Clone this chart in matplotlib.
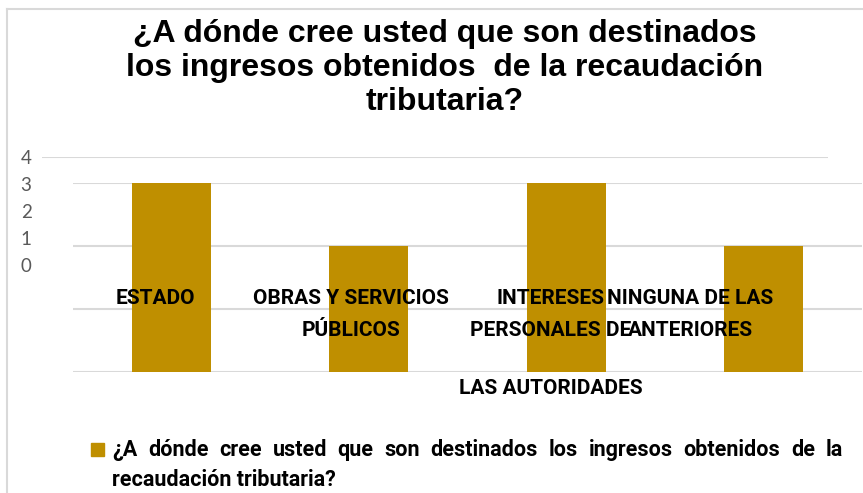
import matplotlib
matplotlib.use("Agg")
import matplotlib.pyplot as plt
from matplotlib.lines import Line2D
from matplotlib.patches import Rectangle
from matplotlib.transforms import blended_transform_factory

# data
categories = ["ESTADO", "OBRAS Y SERVICIOS PÚBLICOS",
              "INTERESES PERSONALES DE LAS AUTORIDADES", "NINGUNA DE LAS ANTERIORES"]
values = [3, 2, 3, 2]
label_lines = [["ESTADO"],
               ["OBRAS Y SERVICIOS", "PÚBLICOS"],
               ["INTERESES", "PERSONALES DE", "LAS AUTORIDADES"],
               ["NINGUNA DE LAS", "ANTERIORES"]]
tick_labels = ["0", "1", "2", "3", "4"]
title = "¿A dónde cree usted que son destinados\nlos ingresos obtenidos  de la recaudación\ntributaria?"
legend_lines = ["¿A dónde cree usted que son destinados los ingresos obtenidos  de la",
                "recaudación tributaria?"]

BAR = "#BF8F00"
GRID = "#D9D9D9"
LABEL_FONT = "Roboto"
W, H = 863, 493

fig = plt.figure(figsize=(W / 100, H / 100), dpi=100)

# chart border (only top and left edges are inside the image)
fig.add_artist(Line2D([7 / W, 7 / W], [0, 1 - 9 / H], color=GRID, lw=1.5))
fig.add_artist(Line2D([7 / W, 1], [1 - 9 / H, 1 - 9 / H], color=GRID, lw=1.5))

fig.text(445 / W, 1 - 68 / H, title, ha="center", va="center",
         fontsize=23, fontweight="bold", family="Liberation Sans", linespacing=1.18)

# main plot area
ax = fig.add_axes([73 / W, 1 - 372 / H, 789 / W, 189 / H])
x = list(range(len(categories)))
ax.bar(x, values, width=0.4, color=BAR, zorder=2)
ax.set_xlim(-0.5, len(categories) - 0.5)
ax.set_ylim(0, 3)
ax.set_yticks([0, 1, 2, 3])
ax.yaxis.grid(True, color=GRID, lw=1.5, zorder=0)
ax.tick_params(left=False, bottom=False, labelleft=False, labelbottom=False)
for s in ax.spines.values():
    s.set_visible(False)

# category labels, drawn over the bars like the original
label_shift = [-0.08, -0.09, -0.08, -0.37]
row_y = [1 - 298 / H, 1 - 330 / H, 1 - 389 / H]
trans = blended_transform_factory(ax.transData, fig.transFigure)
for i, lines in enumerate(label_lines):
    for j, line in enumerate(lines):
        ax.text(i + label_shift[i], row_y[j], line, transform=trans, ha="center",
                va="center", fontsize=15, fontweight="bold", family=LABEL_FONT,
                color="black", zorder=5, clip_on=False)

# the squeezed value axis from the original
ax2 = fig.add_axes([42 / W, 1 - 265 / H, 786 / W, 108 / H])
ax2.patch.set_visible(False)
ax2.set_ylim(0, 4)
ax2.set_xlim(0, 1)
ax2.set_yticks(range(len(tick_labels)))
ax2.set_yticklabels(tick_labels, fontsize=13.5, family="Lato", color="#595959")
ax2.axhline(4, color=GRID, lw=1.5)
ax2.tick_params(left=False, bottom=False, labelbottom=False, pad=4)
for s in ax2.spines.values():
    s.set_visible(False)

# legend marker and justified legend text
fig.add_artist(Rectangle((91 / W, 1 - 456 / H), 13 / W, 13 / H,
                         transform=fig.transFigure, color=BAR))
renderer = fig.canvas.get_renderer()
words = legend_lines[0].split()
left, right = 112, 843
arts = [fig.text(0, 1 - 450 / H, w, fontsize=15.5, fontweight="bold", family=LABEL_FONT,
                 va="center", ha="left") for w in words]
widths = [a.get_window_extent(renderer).width for a in arts]
gap = (right - left - sum(widths)) / (len(words) - 1)
pos = left
for a, wd in zip(arts, widths):
    a.set_x(pos / W)
    pos += wd + gap
fig.text(left / W, 1 - 480 / H, legend_lines[1], fontsize=15.5, fontweight="bold",
         family=LABEL_FONT, va="center", ha="left")

fig.savefig("out.png", dpi=100)
